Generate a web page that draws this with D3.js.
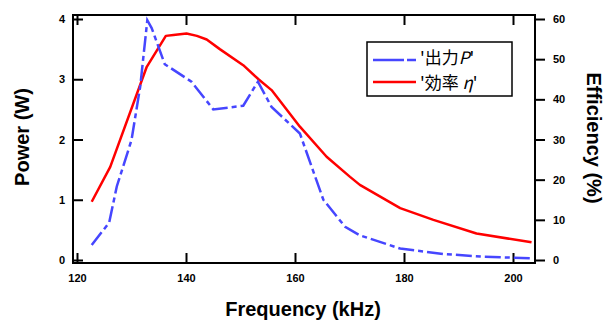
<!DOCTYPE html>
<html>
<head>
<meta charset="utf-8">
<script src="https://cdn.jsdelivr.net/npm/d3@7"></script>
<style>
  body { margin: 0; background: #fff; }
  svg text { font-family: "Liberation Sans", Arial, sans-serif; }
</style>
</head>
<body>
<svg id="main"></svg>
<script>
// power (W), blue dash-dot line
let powerFreq = [122.7, 125.9, 127.3, 130.0, 131.6, 132.9, 133.7, 136.1, 141.0, 145.0, 150.5, 153.2, 155.7, 160.9, 165.2, 169.2, 171.9, 179.3, 187.2, 194.6, 203.1];
let powerVals = [0.25, 0.62, 1.22, 1.99, 2.88, 3.98, 3.85, 3.25, 2.96, 2.50, 2.56, 2.96, 2.54, 2.10, 1.00, 0.55, 0.41, 0.19, 0.10, 0.055, 0.03];

// efficiency (%), red line
let effFreq = [122.7, 126.1, 132.8, 136.3, 137.7, 140.1, 142.0, 143.8, 146.2, 150.5, 153.3, 155.7, 160.9, 165.8, 170.1, 171.9, 179.3, 185.4, 193.3, 203.4];
let effVals = [14.5, 23.2, 48.1, 55.8, 56.0, 56.4, 55.8, 54.9, 52.5, 48.5, 45.0, 42.3, 33.2, 25.7, 20.7, 18.7, 12.9, 10.0, 6.6, 4.4];

let freqTicks = [120, 140, 160, 180, 200];
let powerTicks = [0, 1, 2, 3, 4];
let effTicks = [0, 10, 20, 30, 40, 50, 60];

const W = 606, H = 322;
const box = {left: 73, right: 535, top: 15, bottom: 263};

const svg = d3.select("#main")
    .attr("width", W)
    .attr("height", H);

// scales
var x = d3.scaleLinear().domain([120, 200]).range([77, 513]);
var yL = d3.scaleLinear().domain([0, 4]).range([260, 19]);
var yR = d3.scaleLinear().domain([0, 60]).range([260, 19]);

// axes (ticks point inward except the right one)
svg.append("g")
    .attr("transform", "translate(0," + box.bottom + ")")
    .call(d3.axisBottom(x).tickValues(freqTicks).tickSize(-10).tickPadding(11).tickFormat(d3.format("d")));
svg.append("g")
    .attr("transform", "translate(0," + box.top + ")")
    .call(d3.axisTop(x).tickValues(freqTicks).tickSize(-10).tickFormat(""));
svg.append("g")
    .attr("transform", "translate(" + box.left + ",0)")
    .call(d3.axisLeft(yL).tickValues(powerTicks).tickSize(-10).tickPadding(8).tickFormat(d3.format("d")));
svg.append("g")
    .attr("transform", "translate(" + box.right + ",0)")
    .call(d3.axisRight(yR).tickValues(effTicks).tickSize(10).tickPadding(8).tickFormat(d3.format("d")));

svg.selectAll(".domain").remove();
svg.selectAll(".tick line").attr("stroke", "#000").attr("stroke-width", 2);
svg.selectAll(".tick text")
    .attr("fill", "#000")
    .style("font-size", "11px")
    .style("font-weight", "bold")
    .style("font-family", "'Liberation Sans', Arial, sans-serif");

// frame
svg.append("rect")
    .attr("x", box.left).attr("y", box.top)
    .attr("width", box.right - box.left).attr("height", box.bottom - box.top)
    .attr("fill", "none").attr("stroke", "#000").attr("stroke-width", 2);

// lines
var powerLine = d3.line()
    .x(function(d, i) { return x(powerFreq[i]); })
    .y(function(d) { return yL(d); });
var effLine = d3.line()
    .x(function(d, i) { return x(effFreq[i]); })
    .y(function(d) { return yR(d); });

svg.append("path")
    .datum(effVals)
    .attr("d", effLine)
    .attr("fill", "none")
    .attr("stroke", "#ff0000")
    .attr("stroke-width", 2.5)
    .attr("stroke-linejoin", "round");

svg.append("path")
    .datum(powerVals)
    .attr("d", powerLine)
    .attr("fill", "none")
    .attr("stroke", "#4646ff")
    .attr("stroke-width", 2.5)
    .attr("stroke-dasharray", "16,4,5,4");

// axis titles
svg.append("text")
    .attr("x", 303).attr("y", 316)
    .attr("text-anchor", "middle")
    .style("font-size", "20px").style("font-weight", "bold")
    .text("Frequency (kHz)");
svg.append("text")
    .attr("transform", "translate(29,137) rotate(-90)")
    .attr("text-anchor", "middle")
    .style("font-size", "20px").style("font-weight", "bold")
    .text("Power (W)");
svg.append("text")
    .attr("transform", "translate(587,138) rotate(90)")
    .attr("text-anchor", "middle")
    .style("font-size", "20px").style("font-weight", "bold")
    .text("Efficiency (%)");

// legend
var lg = svg.append("g");
lg.append("rect")
    .attr("x", 367).attr("y", 42).attr("width", 145).attr("height", 54)
    .attr("fill", "#fff").attr("stroke", "#000").attr("stroke-width", 1.5);
lg.append("line")
    .attr("x1", 373).attr("x2", 416).attr("y1", 60).attr("y2", 60)
    .attr("stroke", "#4646ff").attr("stroke-width", 2.5)
    .attr("stroke-dasharray", "31,3,9");
lg.append("line")
    .attr("x1", 373).attr("x2", 416).attr("y1", 82).attr("y2", 82)
    .attr("stroke", "#ff0000").attr("stroke-width", 2.5);

var t1 = lg.append("text").attr("x", 420).attr("y", 64)
    .style("font-family", "'Noto Sans CJK JP', sans-serif").style("font-size", "17px");
t1.append("tspan").text("'出力");
t1.append("tspan").style("font-style", "italic").text("P");
t1.append("tspan").text("'");

var t2 = lg.append("text").attr("x", 420).attr("y", 89)
    .style("font-family", "'Noto Sans CJK JP', sans-serif").style("font-size", "17px");
t2.append("tspan").text("'効率 ");
t2.append("tspan").style("font-style", "italic").text("η");
t2.append("tspan").text("'");
</script>
</body>
</html>
